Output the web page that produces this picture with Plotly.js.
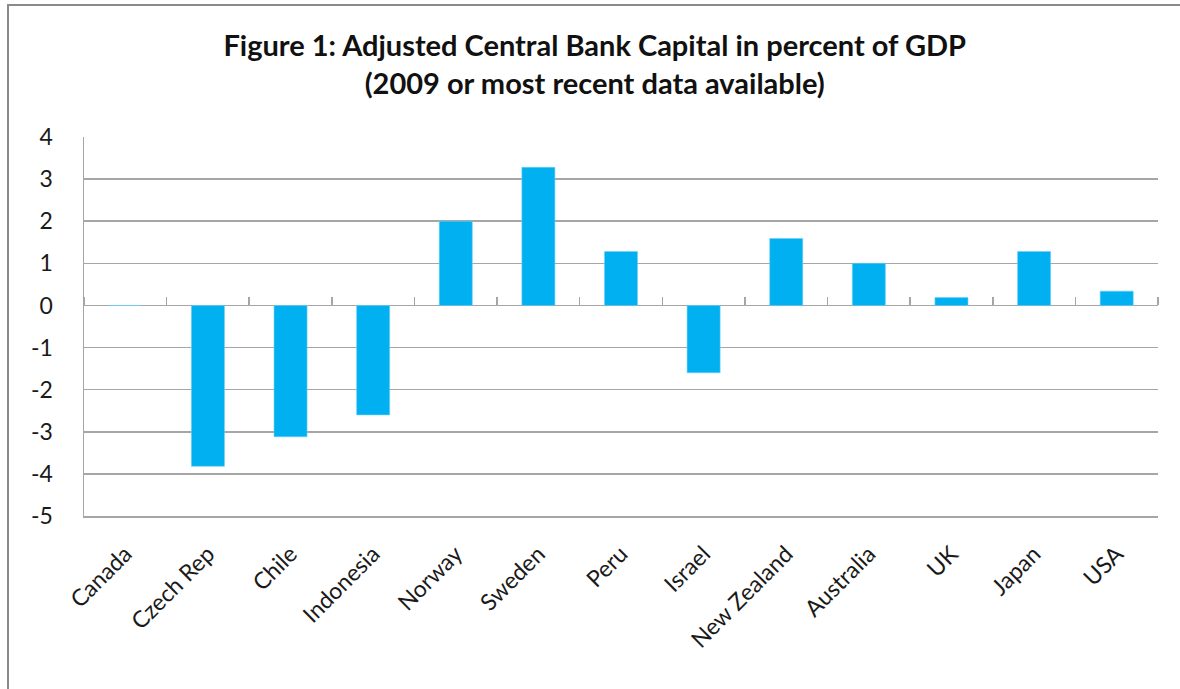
<!DOCTYPE html>
<html>
<head>
<meta charset="utf-8">
<script src="https://cdn.plot.ly/plotly-3.0.1.min.js"></script>
<style>
  html, body { margin: 0; padding: 0; background: #fff; }
  #chart { position: absolute; left: 0; top: 0; width: 1180px; height: 689px; }
  #frame { position: absolute; left: 7px; top: 4px; width: 1173px; height: 685px;
           border-left: 2px solid #8a8a8a; border-top: 2px solid #8a8a8a; box-sizing: border-box;
           pointer-events: none; }
</style>
</head>
<body>
<div id="chart"></div>
<div id="frame"></div>
<script>
const countries = ["Canada", "Czech Rep", "Chile", "Indonesia", "Norway", "Sweden", "Peru",
                   "Israel", "New Zealand", "Australia", "UK", "Japan", "USA"];
const capitalPctGdp = [0, -3.82, -3.12, -2.6, 2.0, 3.28, 1.28, -1.6, 1.59, 1.0, 0.19, 1.28, 0.34];
const yTicks = [-5, -4, -3, -2, -1, 0, 1, 2, 3, 4];
const titleLines = ["Figure 1: Adjusted Central Bank Capital in percent of GDP",
                    "(2009 or most recent data available)"];

const gridCol = "#a6a6a6";
const fontFam = "Lato, 'Open Sans', sans-serif";

const traces = [
  {
    type: "bar",
    x: countries,
    y: capitalPctGdp,
    marker: { color: "#00B0F0", line: { color: "#6fd0f5", width: 0.6 } },
    width: 0.4,
    hoverinfo: "x+y"
  },
  {
    type: "scatter",
    mode: "markers",
    x: countries,
    y: capitalPctGdp,
    xaxis: "x2",
    marker: { opacity: 0 },
    hoverinfo: "skip",
    showlegend: false
  }
];

const yMin = yTicks[0], yMax = yTicks[yTicks.length - 1];

const layout = {
  width: 1180,
  height: 689,
  paper_bgcolor: "#ffffff",
  plot_bgcolor: "#ffffff",
  showlegend: false,
  margin: { l: 84, r: 22, t: 137, b: 173 },
  font: { family: fontFam, color: "#1a1a1a" },
  title: {
    text: titleLines.join("<br>"),
    font: { family: fontFam, size: 29, color: "#111", weight: "bold" },
    x: 0.504, xref: "container", xanchor: "center",
    y: 0.919, yref: "container", yanchor: "middle"
  },
  xaxis: {
    type: "category",
    categoryarray: countries,
    range: [-0.5, countries.length - 0.5],
    tickangle: -45,
    ticks: "",
    ticklabelstandoff: 14,
    tickfont: { family: fontFam, size: 23, color: "#1a1a1a" },
    showgrid: false,
    showline: true,
    linecolor: gridCol,
    linewidth: 1.5,
    zeroline: false,
    fixedrange: true
  },
  xaxis2: {
    type: "category",
    categoryarray: countries,
    overlaying: "x",
    anchor: "free",
    side: "top",
    position: (0 - yMin) / (yMax - yMin),
    range: [-0.5, countries.length - 0.5],
    ticks: "outside",
    tickson: "boundaries",
    ticklen: 8,
    tickwidth: 1.5,
    tickcolor: gridCol,
    showticklabels: false,
    showgrid: false,
    showline: false,
    zeroline: false,
    fixedrange: true
  },
  yaxis: {
    range: [yMin, yMax],
    tickvals: yTicks,
    ticktext: yTicks.map(String),
    ticks: "",
    ticklabelstandoff: 25,
    tickfont: { family: fontFam, size: 23, color: "#1a1a1a" },
    showgrid: true,
    gridcolor: gridCol,
    gridwidth: 1.5,
    zeroline: true,
    zerolinecolor: gridCol,
    zerolinewidth: 1.5,
    showline: true,
    linecolor: gridCol,
    linewidth: 1.5,
    fixedrange: true
  },
  bargap: 0.6
};

Plotly.newPlot("chart", traces, layout, { displayModeBar: false, staticPlot: true });
</script>
</body>
</html>
